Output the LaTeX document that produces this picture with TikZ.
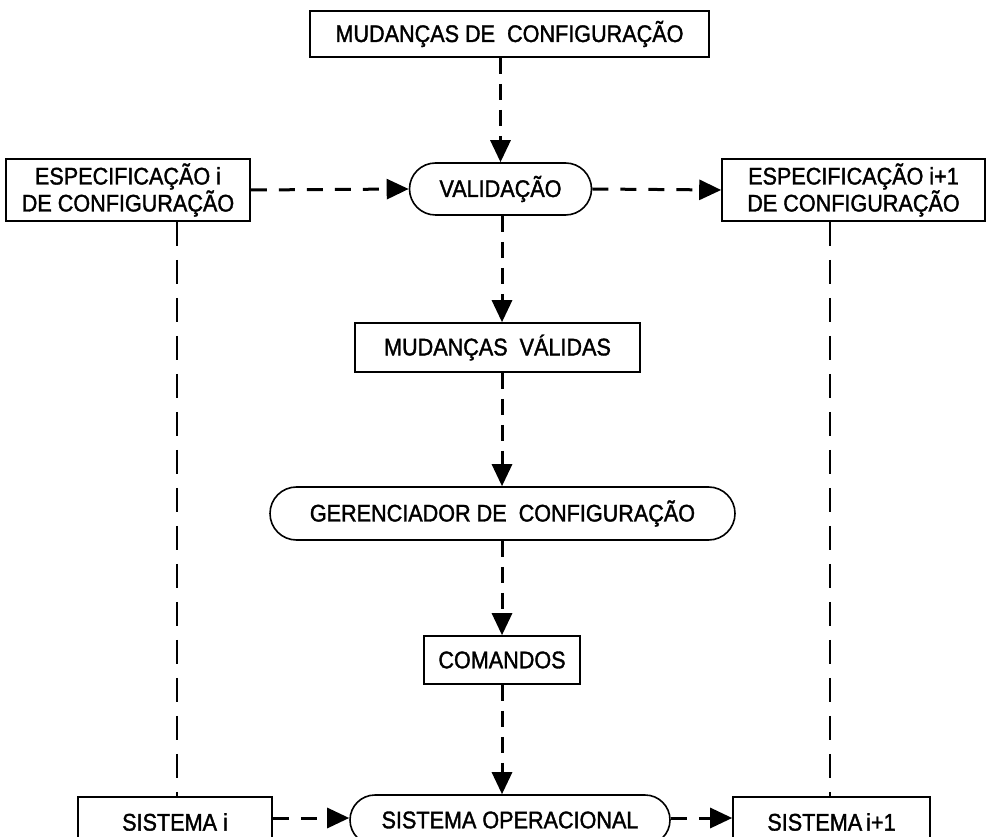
\documentclass[tikz,border=0pt]{standalone}
\usepackage{fontspec}
\setmainfont{Liberation Sans}[FakeBold=1.5,FakeStretch=0.9]
\usetikzlibrary{arrows.meta,shapes.misc}

\begin{document}
\begin{tikzpicture}[x=1pt,y=1pt,
  every node/.style={font=\fontsize{24}{27}\selectfont, inner sep=0pt, line width=1.6pt, align=center},
  box/.style={draw, rectangle, minimum width=#1, minimum height=48pt},
  pill/.style={draw, rounded rectangle, minimum width=#1, minimum height=50pt},
  flow/.style={line width=3pt, dash pattern=on 16pt off 10pt, -{Triangle[length=22pt,width=20pt]}},
  hflow/.style={line width=3pt, dash pattern=on 16pt off 12pt, -{Triangle[length=22pt,width=20pt]}},
  track/.style={line width=1.7pt, dash pattern=on 24pt off 14pt}
]
\useasboundingbox (0,0) rectangle (987,836);
\clip (0,0) rectangle (987,836);

% top-level change request
\node[box=399pt, minimum height=46pt] (req) at (509.5,802) {MUDANÇAS DE\ \ CONFIGURAÇÃO};

% validation step and the two specifications
\node[pill=182pt, minimum height=52pt] (val) at (500.5,647) {VALIDAÇÃO};
\node[box=244pt, minimum height=62pt] (spec) at (128,646) {ESPECIFICAÇÃO\ i\\DE CONFIGURAÇÃO};
\node[box=263pt, minimum height=62pt] (specn) at (853.5,646) {ESPECIFICAÇÃO i+1\\DE CONFIGURAÇÃO};

% validated changes, manager, commands
\node[box=285pt, minimum height=49pt] (ok) at (497.5,488.5) {MUDANÇAS\ \ VÁLIDAS};
\node[pill=465pt, minimum height=53pt] (mgr) at (502.5,322.5) {GERENCIADOR DE\ \ CONFIGURAÇÃO};
\node[box=156pt, minimum height=48pt] (cmd) at (502,176) {COMANDOS};

% operating system and the two system states
\node[pill=320pt, minimum height=50pt] (os) at (510,16) {SISTEMA OPERACIONAL};
\node[box=194pt, minimum height=50pt] (sys) at (175,14) {SISTEMA\ i};
\node[box=197pt, minimum height=50pt] (sysn) at (831.5,14) {SISTEMA\,i+1};

% main flow
\draw[flow] (req.south -| val.north) -- (val.north);
\draw[flow] (val.south -| 502,0) -- (ok.north -| 502,0);
\draw[flow] (ok.south -| 502,0) -- (mgr.north -| 502,0);
\draw[flow] (mgr.south -| 502,0) -- (cmd.north);
\draw[flow] (cmd.south) -- (os.north -| cmd.south);

% horizontal transitions
\draw[hflow] (spec.east) -- (val.west);
\draw[hflow] (val.east) -- (specn.west);
\draw[hflow] (sys.east |- 0,18) -- (os.west |- 0,18);
\draw[hflow] (os.east |- 0,18) -- (sysn.west |- 0,18);

% specification-to-system correspondence
\draw[track] (spec.south -| 177,0) -- (sys.north -| 177,0);
\draw[track] (specn.south -| 830,0) -- (sysn.north -| 830,0);
\end{tikzpicture}
\end{document}
